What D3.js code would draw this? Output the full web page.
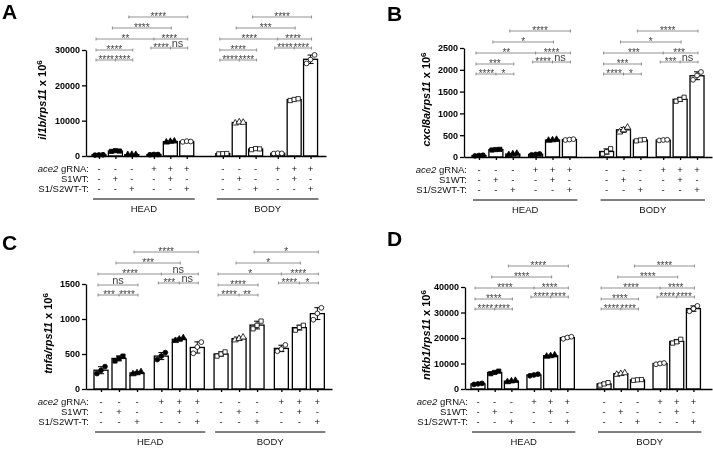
<!DOCTYPE html>
<html>
<head>
<meta charset="utf-8">
<script src="https://cdn.jsdelivr.net/npm/d3@7"></script>
<style>
  body { margin: 0; background: #fff; }
  svg { font-family: "Liberation Sans", Arial, sans-serif; will-change: transform; }
</style>
</head>
<body>
<div class="chart"></div>
<script>
var w = 713;
var h = 451;

//Conditions under the bars
var groups = ["HEAD", "BODY"];
var ace2Row = ["-", "-", "-", "+", "+", "+"];
var s1Row = ["-", "+", "-", "-", "+", "-"];
var s12Row = ["-", "-", "+", "-", "-", "+"];

//Replicates for each bar: head 1-6, then body 1-6
var il1b = [
    [250, 300, 350], [1300, 1500, 1400], [350, 420, 380], [350, 450, 420], [3900, 4100, 4200], [4000, 4200, 4100],
    [600, 650, 700], [9300, 9600, 9500], [1800, 2100, 2000], [700, 800, 750], [15700, 16000, 16200], [26200, 27300, 28600]
];
var cxcl8a = [
    [25, 35, 40], [160, 170, 175], [50, 70, 80], [50, 60, 70], [380, 390, 400], [390, 400, 410],
    [70, 120, 190], [570, 620, 680], [370, 390, 400], [380, 390, 395], [1280, 1320, 1370], [1770, 1870, 1950]
];
var tnfa = [
    [220, 265, 320], [400, 440, 470], [215, 230, 245], [420, 470, 520], [690, 710, 730], [510, 600, 670],
    [470, 500, 530], [700, 720, 740], [860, 910, 970], [540, 570, 630], [840, 880, 910], [990, 1080, 1160]
];
var nfkb1 = [
    [1800, 2000, 2200], [6000, 6500, 7000], [2800, 3100, 3300], [5200, 5500, 5800], [12800, 13000, 13300], [19700, 20200, 20500],
    [1500, 2000, 2500], [5700, 6000, 6300], [3400, 3600, 3700], [9700, 10000, 10200], [18000, 18500, 19500], [30500, 31500, 32600]
];

//Tick values
var il1bTicks = [0, 10000, 20000, 30000];
var cxcl8aTicks = [0, 500, 1000, 1500, 2000, 2500];
var tnfaTicks = [0, 500, 1000, 1500];
var nfkb1Ticks = [0, 10000, 20000, 30000, 40000];

//Significance labels per group, in bracket order:
//1v2|2v3, 1v3, 4v5|5v6, 1v4|4v6, 2v5, 3v6
var il1bSig = [
    [["****", "****"], ["****"], ["****", "ns"], ["**", "****"], ["****"], ["****"]],
    [["****", "****"], ["****"], ["****", "****"], ["****", "****"], ["***"], ["****"]]
];
var cxcl8aSig = [
    [["****", "*"], ["***"], ["****", "ns"], ["**", "****"], ["*"], ["****"]],
    [["****", "*"], ["***"], ["***", "ns"], ["***", "***"], ["*"], ["****"]]
];
var tnfaSig = [
    [["***", "****"], ["ns"], ["***", "ns"], ["****", "ns"], ["***"], ["****"]],
    [["****", "**"], ["****"], ["****", "*"], ["*", "****"], ["*"], ["*"]]
];
var nfkb1Sig = [
    [["****", "****"], ["****"], ["****", "****"], ["****", "****"], ["****"], ["****"]],
    [["****", "****"], ["****"], ["****", "****"], ["****", "****"], ["****"], ["****"]]
];

//Columns used by each bracket, and its height above the lowest one
var bracketCols = [[0, 1, 2], [0, 2], [3, 4, 5], [0, 3, 5], [1, 4], [2, 5]];
var bracketLift = [0, 10, 12, 21, 32, 43];

var svg = d3.select(".chart")
    .append("svg")
    .attr("width", w)
    .attr("height", h);

var slots = [0, 1, 2, 3.35, 4.35, 5.35];
var shapes = [d3.symbolCircle, d3.symbolSquare, d3.symbolTriangle, d3.symbolCircle, d3.symbolTriangle, d3.symbolCircle,
    d3.symbolSquare, d3.symbolTriangle, d3.symbolSquare, d3.symbolCircle, d3.symbolSquare, d3.symbolCircle];
var filled = [1, 1, 1, 1, 1, 0, 0, 0, 0, 0, 0, 0];

function drawPanel(p) {
    var g = svg.append("g");

    //slot positions of the 12 bars
    var pos = [];
    [0, p.gap].forEach(off => slots.forEach(s => pos.push(s + off)));

    var xScale = d3.scaleLinear()
        .domain([(p.ax - p.x0) / p.u, (p.xEnd - p.x0) / p.u])
        .range([p.ax, p.xEnd]);
    var yScale = d3.scaleLinear()
        .domain([0, p.max])
        .range([p.base, p.top]);

    var stats = p.data.map((d, i) => ({
        i: i,
        x: xScale(pos[i]),
        vals: d,
        mean: d3.mean(d),
        sd: d3.deviation(d)
    }));

    //bars
    g.selectAll("rect.bar")
        .data(stats)
        .enter()
        .append("rect")
        .attr("class", "bar")
        .attr("x", d => d.x - p.bw / 2)
        .attr("y", d => yScale(d.mean))
        .attr("width", p.bw)
        .attr("height", d => p.base - yScale(d.mean))
        .attr("fill", "#fff")
        .attr("stroke", "#000")
        .attr("stroke-width", 1.3);

    //error bars
    stats.forEach(d => {
        var y1 = yScale(d.mean + d.sd), y2 = yScale(Math.max(0, d.mean - d.sd));
        g.append("line").attr("x1", d.x).attr("x2", d.x).attr("y1", y1).attr("y2", y2)
            .attr("stroke", "#000").attr("stroke-width", 1);
        [y1, y2].forEach(yy => g.append("line")
            .attr("x1", d.x - 3).attr("x2", d.x + 3).attr("y1", yy).attr("y2", yy)
            .attr("stroke", "#000").attr("stroke-width", 1));
    });

    //replicate points
    stats.forEach(d => {
        d.vals.forEach((v, k) => {
            g.append("path")
                .attr("d", d3.symbol().type(shapes[d.i]).size(18))
                .attr("transform", "translate(" + (d.x + (k - 1) * 4) + "," + yScale(v) + ")")
                .attr("fill", filled[d.i] ? "#000" : "#fff")
                .attr("stroke", "#000")
                .attr("stroke-width", 0.8);
        });
    });

    //axes
    var yAxis = d3.axisLeft(yScale)
        .tickValues(p.ticks)
        .tickFormat(d3.format("d"))
        .tickSizeInner(4)
        .tickSizeOuter(0)
        .tickPadding(2);
    var ya = g.append("g")
        .attr("transform", "translate(" + p.ax + ",0)")
        .call(yAxis);
    ya.selectAll("text").attr("font-size", 9).attr("font-weight", "bold").attr("fill", "#000");

    var xAxis = d3.axisBottom(xScale)
        .tickValues(pos)
        .tickFormat("")
        .tickSizeInner(3)
        .tickSizeOuter(0);
    var xa = g.append("g")
        .attr("transform", "translate(0," + p.base + ")")
        .call(xAxis);
    [ya, xa].forEach(a => {
        a.selectAll("path, line").attr("stroke", "#000").attr("stroke-width", 1.3);
    });

    //condition table
    var rows = [ace2Row, s1Row, s12Row];
    var rowLabels = g.append("g").attr("font-size", 9.5).attr("fill", "#111");
    rows.forEach((r, k) => {
        var ty = p.base + 16 + k * 10;
        var t = rowLabels.append("text").attr("x", p.ax + 3).attr("y", ty).attr("text-anchor", "end");
        if (k == 0) {
            t.append("tspan").attr("font-style", "italic").text("ace2");
            t.append("tspan").text(" gRNA:");
        } else {
            t.text(k == 1 ? "S1WT:" : "S1/S2WT-T:");
        }
        stats.forEach(d => {
            rowLabels.append("text")
                .attr("x", d.x).attr("y", ty)
                .attr("text-anchor", "middle")
                .text(r[d.i % 6]);
        });
    });
    groups.forEach((name, gi) => {
        var xa0 = stats[gi * 6].x - 6, xa1 = stats[gi * 6 + 5].x + 8;
        g.append("line").attr("x1", xa0).attr("x2", xa1)
            .attr("y1", p.base + 43).attr("y2", p.base + 43)
            .attr("stroke", "#000").attr("stroke-width", 1);
        g.append("text").attr("x", (xa0 + xa1) / 2).attr("y", p.base + 56)
            .attr("text-anchor", "middle").attr("font-size", 9.5).attr("fill", "#111").text(name);
    });

    //significance brackets
    groups.forEach((name, gi) => {
        bracketCols.forEach((cols, b) => {
            var by = p.l0 - bracketLift[b];
            var xs = cols.map(c => stats[gi * 6 + c].x);
            g.append("line").attr("x1", xs[0] - 3).attr("x2", xs[xs.length - 1] + 1)
                .attr("y1", by).attr("y2", by)
                .attr("stroke", "#777").attr("stroke-width", 0.8);
            xs.forEach((xx, k) => {
                var tx = k == 0 ? xx - 3 : (k == xs.length - 1 ? xx + 1 : xx);
                g.append("line").attr("x1", tx).attr("x2", tx)
                    .attr("y1", by - 1.5).attr("y2", by + 1.5)
                    .attr("stroke", "#777").attr("stroke-width", 0.8);
            });
            p.sig[gi][b].forEach((lab, k) => {
                var cx = (xs[k] + xs[k + 1]) / 2 - 1;
                var isNs = lab == "ns";
                g.append("text")
                    .attr("x", cx)
                    .attr("y", isNs ? by - 1 : by + 2.5)
                    .attr("text-anchor", "middle")
                    .attr("font-size", isNs ? 11 : 10)
                    .attr("fill", "#444")
                    .text(lab);
            });
        });
    });

    //y title
    var tt = g.append("text")
        .attr("transform", "translate(" + p.titleX + "," + ((p.base + p.top) / 2 - 3) + ") rotate(-90)")
        .attr("text-anchor", "middle")
        .attr("dy", "0.35em")
        .attr("font-size", 11)
        .attr("font-weight", "bold");
    tt.append("tspan").attr("font-style", "italic").text(p.gene + "/rps11");
    tt.append("tspan").text(" x 10");
    tt.append("tspan").attr("font-size", 8).attr("dy", "-0.5em").text("6");

    //panel letter
    g.append("text").attr("x", p.lx).attr("y", p.ly)
        .attr("font-size", 21).attr("font-weight", "bold").text(p.letter);
}

drawPanel({ letter: "A", lx: 2, ly: 19, gene: "il1b", data: il1b, ticks: il1bTicks, sig: il1bSig,
    max: 30000, ax: 86, base: 156, top: 50, x0: 99, u: 16.4, gap: 7.55, xEnd: 326, bw: 14, titleX: 42, l0: 60 });
drawPanel({ letter: "B", lx: 387, ly: 21, gene: "cxcl8a", data: cxcl8a, ticks: cxcl8aTicks, sig: cxcl8aSig,
    max: 2500, ax: 464, base: 157, top: 48, x0: 479, u: 16.9, gap: 7.55, xEnd: 712, bw: 14, titleX: 426, l0: 74 });
drawPanel({ letter: "C", lx: 2, ly: 250, gene: "tnfa", data: tnfa, ticks: tnfaTicks, sig: tnfaSig,
    max: 1500, ax: 86, base: 389, top: 284, x0: 101, u: 18, gap: 6.67, xEnd: 332, bw: 14, titleX: 48, l0: 295 });
drawPanel({ letter: "D", lx: 387, ly: 246, gene: "nfkb1", data: nfkb1, ticks: nfkb1Ticks, sig: nfkb1Sig,
    max: 40000, ax: 465, base: 389, top: 287, x0: 478, u: 16.7, gap: 7.55, xEnd: 712, bw: 14, titleX: 426, l0: 309 });
</script>
</body>
</html>
